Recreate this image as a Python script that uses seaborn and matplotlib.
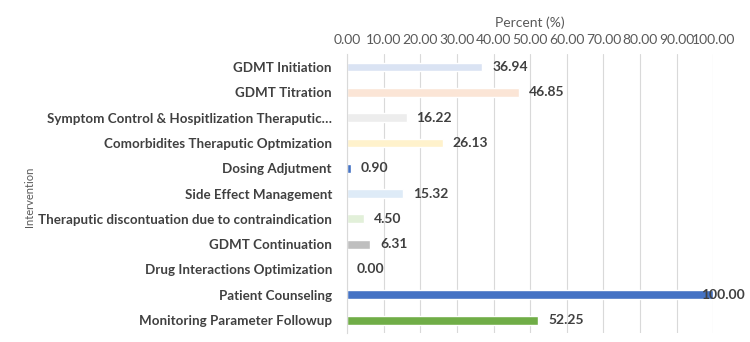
import pandas as pd
import matplotlib.pyplot as plt
import seaborn as sns

# Data
interventions = [
    "GDMT Initiation",
    "GDMT Titration",
    "Symptom Control & Hospitlization Theraputic…",
    "Comorbidites Theraputic Optmization",
    "Dosing Adjutment",
    "Side Effect Management",
    "Theraputic discontuation due to contraindication",
    "GDMT Continuation",
    "Drug Interactions Optimization",
    "Patient Counseling",
    "Monitoring Parameter Followup",
]
percents = [36.94, 46.85, 16.22, 26.13, 0.90, 15.32, 4.50, 6.31, 0.00, 100.00, 52.25]
bar_colors = ["#DAE3F3", "#FBE5D6", "#EDEDED", "#FFF2CC", "#4472C4", "#DEEBF7",
              "#E2F0D9", "#BFBFBF", "#A5A5A5", "#4472C4", "#70AD47"]
x_ticks = list(range(0, 101, 10))


def plot_interventions():
    df = pd.DataFrame({"Intervention": interventions, "Percent": percents})

    sns.set_style("white")
    plt.rcParams["font.family"] = ["Lato", "DejaVu Sans"]

    fig = plt.figure(figsize=(7.5, 3.42), dpi=100)
    ax = fig.add_axes([0.463, 0.027, 0.488, 0.814])

    sns.barplot(data=df, y="Intervention", x="Percent", hue="Intervention",
                palette=bar_colors, saturation=1, orient="h", width=0.35,
                legend=False, ax=ax)

    ax.set_xlim(0, 100)
    ax.set_xticks(x_ticks)
    ax.set_xticklabels([f"{t:.2f}" for t in x_ticks], fontsize=10, color="#595959")
    ax.xaxis.tick_top()
    ax.xaxis.set_label_position("top")
    ax.set_xlabel("Percent (%)", fontsize=10, color="#595959", labelpad=5)
    ax.set_ylabel("Intervention", fontsize=8, color="#595959")
    ax.yaxis.set_label_coords(-0.852, 0.49)
    ax.tick_params(axis="x", length=0, pad=6)
    ax.tick_params(axis="y", length=0, pad=11)
    for lbl in ax.get_yticklabels():
        lbl.set_fontweight("bold")
        lbl.set_fontsize(9.6)
        lbl.set_color("#404040")

    ax.grid(axis="x", color="#D9D9D9", linewidth=0.8)
    ax.set_axisbelow(True)
    for side in ["top", "right", "bottom"]:
        ax.spines[side].set_visible(False)
    ax.spines["left"].set_color("#D9D9D9")

    # Value labels at bar ends
    for i, v in enumerate(percents):
        if v >= 95:
            ax.annotate(f"{v:.2f}", xy=(v, i), xytext=(23, 0), textcoords="offset points",
                        ha="right", va="center", fontsize=10, fontweight="bold", color="#404040")
        else:
            ax.annotate(f"{v:.2f}", xy=(v, i), xytext=(7, 0), textcoords="offset points",
                        ha="left", va="center", fontsize=10, fontweight="bold", color="#404040")

    fig.savefig("out.png", dpi=100)


if __name__ == "__main__":
    plot_interventions()
